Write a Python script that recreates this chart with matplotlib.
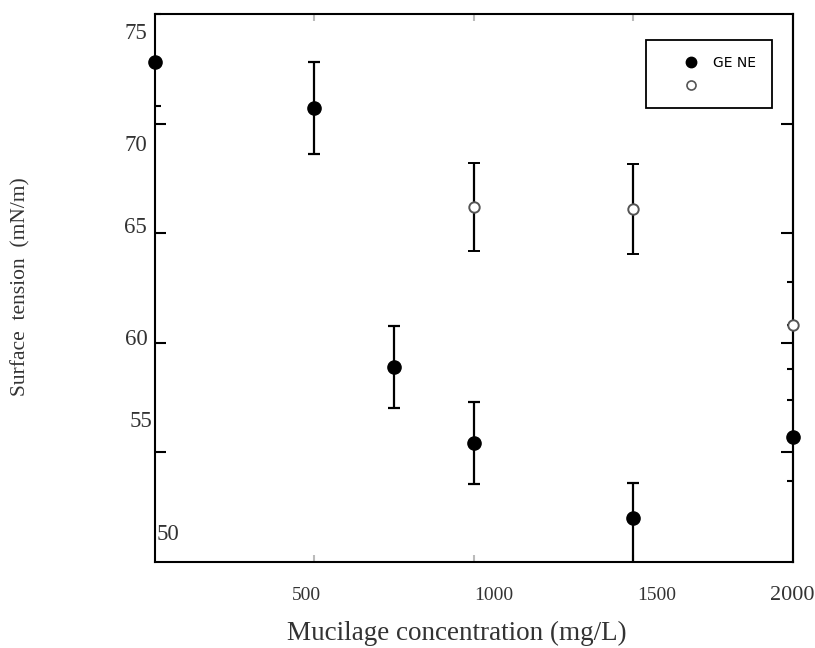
import matplotlib
matplotlib.use("Agg")
import matplotlib.pyplot as plt
from matplotlib.lines import Line2D

# surface tension vs mucilage concentration
conc_filled = [0, 500, 750, 1000, 1500, 2000]
st_filled = [72.8, 70.7, 58.9, 55.45, 52.0, 55.7]
err_filled_lo = [0, 2.1, 1.85, 1.87, 2.6, 0]
err_filled_hi = [0, 2.1, 1.85, 1.87, 1.6, 0]

conc_open = [1000, 1500, 2000]
st_open = [66.2, 66.1, 60.8]
err_open = [2.0, 2.05, 0]

ytick_vals = [55, 60, 65, 70]
ytick_text = ["75", "70", "65", "60", "55", "50"]
ytick_text_y = [74.1, 69.0, 65.25, 60.15, 56.4, 51.25]
ytick_text_x = [-0.0125, -0.0125, -0.0125, -0.011, -0.0047, 0.003]
ytick_text_ha = ["right", "right", "right", "right", "right", "left"]
xtick_vals = [500, 1000, 1500]
xtick_text = ["500", "1000", "1500", "2000"]
xtick_text_x = [476, 1063, 1574, 1997]
xtick_text_size = [14, 14, 14, 16]

SERIF = "Liberation Serif"

fig = plt.figure(figsize=(8.15, 6.48), dpi=100)
ax = fig.add_axes([0.190, 0.1327, 0.783, 0.8453])
ax.set_xlim(0, 2000)
ax.set_ylim(50, 75)

for s in ax.spines.values():
    s.set_linewidth(1.5)

eb1 = ax.errorbar(conc_filled, st_filled, yerr=[err_filled_lo, err_filled_hi],
                  fmt="o", color="black", ms=9.5, elinewidth=1.6, capsize=4.5,
                  capthick=1.6, zorder=3)
eb2 = ax.errorbar(conc_open, st_open, yerr=err_open, fmt="o", mfc="white",
                  mec="#555555", mew=1.4, ms=7.5, ecolor="black",
                  elinewidth=1.6, capsize=4.5, capthick=1.6, zorder=3)
# markers sitting on the axes edges stay whole
eb1[0].set_clip_on(False)
eb2[0].set_clip_on(False)

# ticks: inward, no numbers on the axis itself
ax.set_yticks(ytick_vals)
ax.set_yticks([70.8, 75], minor=True)
ax.set_xticks(xtick_vals)
ax.set_xticks([], minor=True)
ax.tick_params(axis="y", which="major", direction="in", length=8, width=1.5,
               labelleft=False)
ax.tick_params(axis="y", which="minor", direction="in", length=4, width=1.5)
ax.tick_params(axis="x", which="major", direction="in", length=5, width=1.5,
               color="#bbbbbb", top=True, labelbottom=False)

rax = ax.secondary_yaxis("right")
rax.set_yticks(ytick_vals)
rax.set_yticks([53.7, 57.4, 58.8, 62.8], minor=True)
rax.tick_params(axis="y", which="major", direction="in", length=9, width=1.5,
                labelright=False)
rax.tick_params(axis="y", which="minor", direction="in", length=4, width=1.5)
rax.spines["right"].set_linewidth(1.5)

for t, yv, xv, ha in zip(ytick_text, ytick_text_y, ytick_text_x, ytick_text_ha):
    ax.text(xv, yv, t, transform=ax.get_yaxis_transform(), ha=ha,
            va="center", fontsize=16.5, family=SERIF, color="#333333")
for t, xv, fs in zip(xtick_text, xtick_text_x, xtick_text_size):
    ax.text(xv, -0.062, t, transform=ax.get_xaxis_transform(), ha="center",
            va="center", fontsize=fs, family=SERIF, color="#333333")

fig.text(0.025, 0.557, "Surface  tension  (mN/m)", rotation=90, ha="center",
         va="center", fontsize=15.5, family=SERIF, color="#333333")
fig.text(0.56, 0.023, "Mucilage concentration (mg/L)", ha="center",
         va="center", fontsize=19.5, family=SERIF, color="#333333")

handles = [Line2D([], [], ls="none", marker="o", color="black", ms=7.5),
           Line2D([], [], ls="none", marker="o", mfc="white", mec="#555555",
                  mew=1.2, ms=6.5)]
leg = ax.legend(handles, ["GE NE", ""], loc="upper left",
                bbox_to_anchor=(0.7696, 0.9526), fancybox=False, framealpha=1,
                edgecolor="black", fontsize=10, borderpad=1.15,
                handletextpad=-0.5, labelspacing=0.6, handlelength=4.2,
                borderaxespad=0)
leg.get_frame().set_linewidth(1.3)

fig.savefig("out.png", dpi=100)
